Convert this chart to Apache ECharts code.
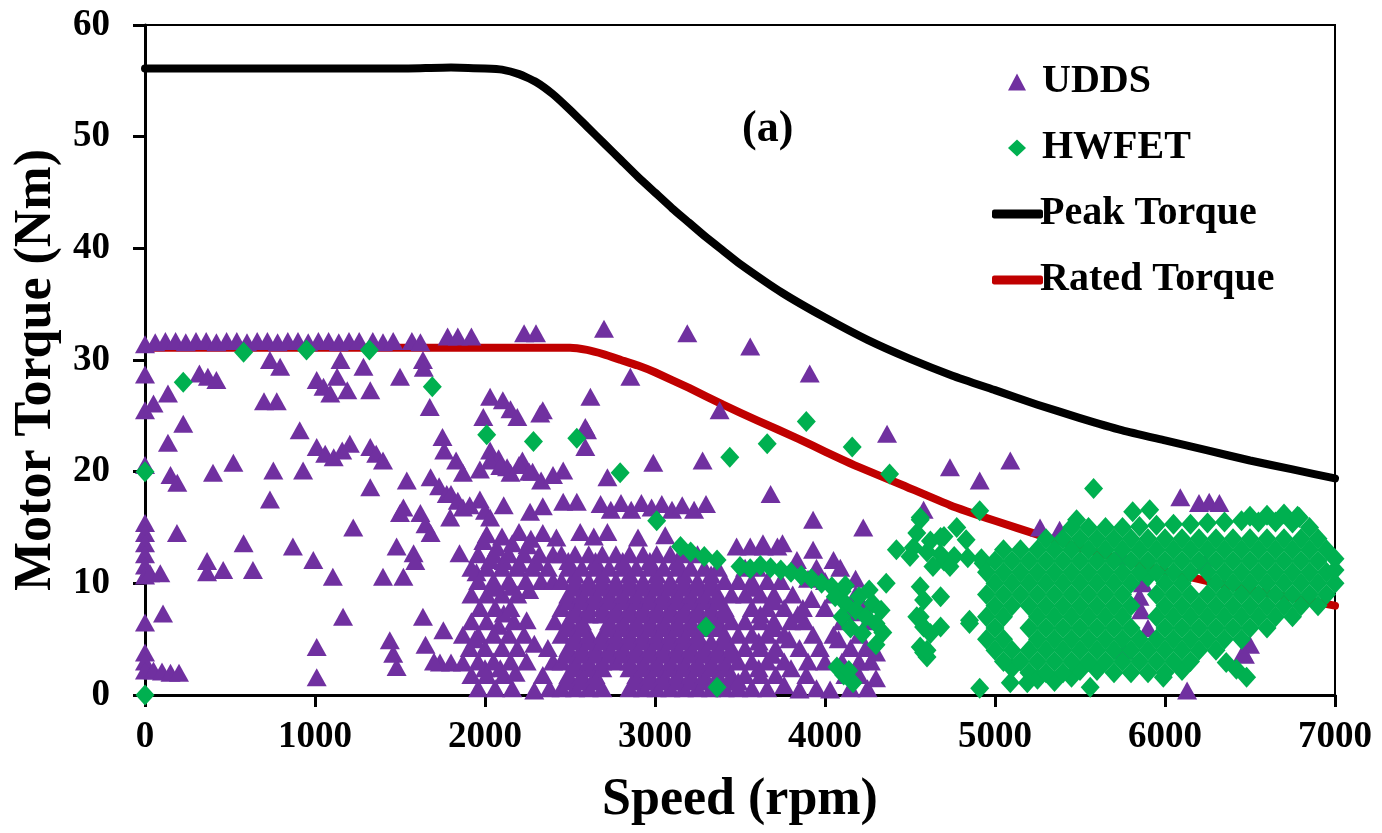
<!DOCTYPE html>
<html><head><meta charset="utf-8">
<script src="https://cdn.jsdelivr.net/npm/echarts@6/dist/echarts.min.js"></script>
<style>html,body{margin:0;padding:0;background:#fff}#c{width:1382px;height:833px}</style>
</head><body><div id="c"></div>
<script>
// ---- data ----
const peakSpeed  = [0, 500, 1000, 1500, 1800, 2000, 2100, 2200, 2300, 2400, 2500, 2600, 2700, 2800, 2900, 3000, 3100, 3200, 3300, 3400, 3500, 3750, 4000, 4250, 4500, 4750, 5000, 5250, 5500, 5750, 6000, 6250, 6500, 6750, 7000];
const peakTorque = [56.1, 56.1, 56.1, 56.1, 56.2, 56.1, 56.0, 55.6, 54.9, 53.8, 52.4, 50.9, 49.4, 47.9, 46.4, 45.0, 43.6, 42.3, 41.0, 39.8, 38.6, 36.0, 33.8, 31.8, 30.1, 28.6, 27.3, 26.0, 24.8, 23.7, 22.8, 21.9, 21.0, 20.2, 19.4];
const ratedSpeed  = [0, 1000, 2000, 2500, 2600, 2700, 2800, 2900, 3000, 3200, 3400, 3600, 3850, 4000, 4200, 4440, 4735, 5000, 5265, 5500, 5750, 6000, 6250, 6500, 6750, 7000];
const ratedTorque = [31.1, 31.1, 31.1, 31.1, 30.9, 30.5, 30.0, 29.5, 28.9, 27.5, 26.0, 24.6, 22.9, 21.8, 20.4, 18.9, 17.0, 15.6, 14.3, 13.2, 12.1, 11.1, 10.2, 9.4, 8.7, 8.0];

const uddsPoints = [
  // band near 31-33 Nm
  [0,31.4],[60,31.6],[120,31.7],[180,31.7],[240,31.6],[300,31.7],[360,31.7],[420,31.6],[480,31.7],[540,31.7],[600,31.6],[660,31.7],[720,31.7],[780,31.6],[840,31.7],[900,31.7],[960,31.6],[1020,31.7],[1080,31.7],[1140,31.6],[1200,31.7],[1260,31.7],[1340,31.7],[1400,31.6],[1460,31.7],[1570,31.7],[1620,31.6],
  [1780,32.1],[1840,32.1],[1920,32.1],[2230,32.4],[2300,32.4],[2700,32.8],[3190,32.4],[3560,31.2],[3910,28.8],[2855,28.5],[2620,26.7],[3380,25.5],[4365,23.4],[4735,20.4],[4910,19.2],[5090,21.0],[5265,15.0],[5380,14.8],[4580,16.6],
  // zero-speed column
  [0,28.7],[0,25.5],[0,20.6],[0,15.4],[0,14.5],[0,13.6],[0,12.6],[0,11.6],[0,10.7],[0,6.5],[0,3.8],[0,3.0],[0,2.2],
  // low speed scattered
  [50,2.2],[100,2.1],[150,2.0],[200,2.0],[106,7.3],[188,14.5],[30,10.9],[90,10.9],[150,19.7],[190,19.0],[135,22.6],[225,24.3],[50,26.1],[135,27.0],[320,28.8],[370,28.5],[420,28.2],
  [400,19.9],[520,20.8],[365,12.0],[365,11.0],[460,11.2],[580,13.6],[635,11.2],[700,26.3],[775,26.3],[735,30.0],[795,29.4],[735,17.5],[755,20.1],[910,23.7],[930,20.1],[870,13.3],[990,12.1],
  [1010,4.3],[1010,1.6],[1165,7.0],[1105,10.6],[1225,15.0],[1010,28.2],[1050,27.6],[1090,27.0],[1010,22.2],[1060,21.6],[1110,21.3],[1160,21.9],[1205,22.5],[1150,30.0],[1130,28.5],[1190,27.3],[1285,29.4],[1325,27.3],
  [1325,22.2],[1360,21.6],[1400,21.0],[1325,18.6],[1400,10.6],[1520,10.6],[1480,13.3],[1500,16.3],[1440,4.9],[1460,3.7],[1480,2.5],[1520,16.8],[1540,19.2],[1500,28.5],[1635,30.0],[1640,29.3],[1675,25.8],
  [1580,12.7],[1590,12.0],[1620,16.3],[1650,15.3],[1680,14.5],[1635,7.0],[1680,19.5],[1730,18.7],[1775,18.0],[1755,5.8],[1800,18.0],[1840,17.4],[1870,16.8],[1795,15.9],[1750,23.1],[1760,21.9],[1830,21.0],[1870,19.9],[1850,12.7],
  [1735,2.9],[1800,2.9],[1870,2.9],[1870,5.4],[1650,4.5],[1700,3.0],
  // 2000-2700 upper
  [2030,26.7],[1990,24.9],[2105,26.4],[2150,25.6],[2190,24.9],[2340,25.5],[2325,25.2],[2590,24.0],[2590,22.2],[2460,20.1],[2600,23.7],[2720,19.5],[2990,20.8],[3280,21.0],[3680,18.0],[2030,21.9],[2080,21.2],[2130,20.4],[2220,21.0],[2280,20.0],[2330,19.2],
  [1970,20.2],[2030,21.0],[2090,20.5],[2150,19.9],[2200,20.6],[2260,20.0],[2400,19.7],[1970,17.5],[2000,16.5],[2030,15.9],
  [1910,17.0],[2110,17.0],[2265,16.4],[2340,16.9],[2460,17.3],[2540,17.3],[2680,17.1],[2740,16.6],[2800,17.2],[2860,16.6],[2920,17.2],[2980,16.8],[3040,17.1],[3100,16.6],[3160,17.0],[3230,16.6],[3300,17.1],
  [3930,15.7],[4225,15.0],[3635,13.6],[3750,13.6],[3930,13.0],[3835,12.1],[4050,12.1],
  // 1900-2440 moderately dense
  [1960,0.6],[2060,0.6],[2160,0.6],[2290,0.4],[2380,0.6],
  [1920,1.8],[2010,1.8],[2110,1.8],[2340,1.8],[2000,2.4],[2090,2.4],[2180,2.0],
  [1960,3.0],[2050,3.0],[2150,3.0],[2245,3.0],[2400,3.0],
  [1910,4.2],[2000,4.2],[2100,4.2],[2190,4.2],[2290,4.6],[2370,4.2],[1940,5.0],
  [1960,5.4],[2050,5.4],[2140,5.4],[2230,5.4],[2080,6.2],[2170,6.6],
  [1920,6.6],[2010,6.6],[2110,7.3],[2245,6.7],[2410,6.6],
  [1970,7.8],[2060,7.8],[2150,7.8],
  [1920,9.0],[2010,9.0],[2100,9.0],[2190,9.0],[2060,9.6],[2160,9.7],[2260,9.4],
  [1960,10.2],[2050,10.2],[2140,10.2],[2240,10.2],[2330,10.2],[2400,10.2],[1950,11.0],
  [1920,11.4],[2010,11.4],[2100,11.4],[2190,11.4],[2280,11.4],[2370,11.4],[2030,12.1],[2110,12.0],[2200,11.8],[2300,11.9],
  [1960,12.6],[2050,12.6],[2140,12.6],[2230,12.6],[2320,12.6],[2400,12.6],[1990,13.8],[2070,13.2],[2160,13.6],[2250,13.4],
  [2010,14.4],[2100,14.2],[2200,14.6],[2270,14.0],[2340,14.5],[2420,14.1],[2560,14.6],[2640,14.2],[2720,14.6],[2900,14.1],[3060,14.3],
  [3480,13.3],[3560,13.3],[3640,13.3],[3720,13.3],
  // dense core 2450-3490
  [2450,0.6],[2530,0.6],[2610,0.6],[2690,0.6],[2850,0.6],[2930,0.6],[3010,0.6],[3090,0.6],[3170,0.6],[3250,0.6],[3330,0.6],[3410,0.6],[3490,0.6],
  [2490,1.2],[2570,1.2],[2650,1.2],[2890,1.2],[2970,1.2],[3050,1.2],[3130,1.2],[3210,1.2],[3290,1.2],[3370,1.2],[3450,1.2],
  [2490,1.8],[2570,1.8],[2650,1.8],[2890,1.8],[2970,1.8],[3050,1.8],[3130,1.8],[3210,1.8],[3290,1.8],[3370,1.8],[3450,1.8],
  [2530,2.4],[2610,2.4],[2690,2.4],[2850,2.4],[2930,2.4],[3010,2.4],[3090,2.4],[3170,2.4],[3250,2.4],[3330,2.4],[3410,2.4],
  [2450,3.0],[2530,3.0],[2610,3.0],[2690,3.0],[2770,3.0],[2850,3.0],[2930,3.0],[3010,3.0],[3090,3.0],[3170,3.0],[3250,3.0],[3330,3.0],[3410,3.0],[3490,3.0],
  [2490,3.6],[2570,3.6],[2650,3.6],[2730,3.6],[2810,3.6],[2890,3.6],[2970,3.6],[3050,3.6],[3130,3.6],[3210,3.6],[3290,3.6],[3370,3.6],[3450,3.6],
  [2490,4.2],[2570,4.2],[2650,4.2],[2730,4.2],[2810,4.2],[2890,4.2],[2970,4.2],[3050,4.2],[3130,4.2],[3210,4.2],[3290,4.2],[3370,4.2],[3450,4.2],
  [2530,4.8],[2610,4.8],[2690,4.8],[2770,4.8],[2850,4.8],[2930,4.8],[3010,4.8],[3090,4.8],[3170,4.8],[3250,4.8],[3330,4.8],[3410,4.8],
  [2450,5.4],[2530,5.4],[2610,5.4],[2690,5.4],[2770,5.4],[2850,5.4],[2930,5.4],[3010,5.4],[3090,5.4],[3170,5.4],[3250,5.4],[3410,5.4],[3490,5.4],
  [2490,6.0],[2570,6.0],[2730,6.0],[2810,6.0],[2890,6.0],[2970,6.0],[3050,6.0],[3130,6.0],[3210,6.0],[3290,6.0],[3370,6.0],
  [2490,6.6],[2570,6.6],[2730,6.6],[2810,6.6],[2890,6.6],[2970,6.6],[3050,6.6],[3130,6.6],[3210,6.6],[3290,6.6],[3370,6.6],[3450,6.6],
  [2530,7.2],[2610,7.2],[2690,7.2],[2770,7.2],[2850,7.2],[2930,7.2],[3010,7.2],[3090,7.2],[3170,7.2],[3250,7.2],[3330,7.2],[3410,7.2],
  [2450,7.8],[2530,7.8],[2610,7.8],[2690,7.8],[2770,7.8],[2850,7.8],[2930,7.8],[3010,7.8],[3090,7.8],[3170,7.8],[3250,7.8],[3330,7.8],[3410,7.8],
  [2490,8.4],[2570,8.4],[2650,8.4],[2730,8.4],[2810,8.4],[2890,8.4],[2970,8.4],[3050,8.4],[3130,8.4],[3210,8.4],[3290,8.4],[3370,8.4],
  [2490,9.0],[2570,9.0],[2650,9.0],[2730,9.0],[2810,9.0],[2890,9.0],[2970,9.0],[3050,9.0],[3130,9.0],[3210,9.0],[3290,9.0],[3370,9.0],[3450,9.0],
  [2530,9.6],[2610,9.6],[2690,9.6],[2770,9.6],[2850,9.6],[2930,9.6],[3010,9.6],[3090,9.6],[3170,9.6],[3250,9.6],[3330,9.6],
  [2450,10.2],[2530,10.2],[2610,10.2],[2690,10.2],[2770,10.2],[2850,10.2],[2930,10.2],[3010,10.2],[3090,10.2],[3170,10.2],[3250,10.2],[3330,10.2],[3410,10.2],[3490,10.2],
  [2530,10.8],[2690,10.8],[2850,10.8],[3010,10.8],[3170,10.8],[3330,10.8],
  [2490,11.4],[2570,11.4],[2650,11.4],[2730,11.4],[2810,11.4],[2890,11.4],[2970,11.4],[3050,11.4],[3130,11.4],[3210,11.4],[3290,11.4],[3370,11.4],
  [2490,12.0],[2650,12.0],[2810,12.0],[2970,12.0],[3130,12.0],
  [2450,12.6],[2530,12.6],[2610,12.6],[2690,12.6],[2770,12.6],[2850,12.6],[2930,12.6],[3010,12.6],[3090,12.6],[3170,12.6],[3250,12.6],
  // 3500-4300
  [3570,0.6],[3660,0.6],[3850,0.5],[3950,0.6],[4030,0.5],[4150,0.6],[4250,0.6],[3760,0.9],
  [3530,1.8],[3620,1.8],[3710,1.8],[3890,1.8],[4120,1.8],[4200,1.8],[3490,1.2],[3610,2.4],[3800,2.4],[4300,1.5],
  [3570,3.0],[3660,3.0],[3760,3.0],[3900,3.0],[4000,3.0],[4100,3.0],[4200,3.0],[4270,3.0],[3690,3.6],[4300,3.8],
  [3530,4.2],[3620,4.2],[3710,4.2],[3850,4.2],[3970,4.2],[4150,4.2],[4240,4.2],[3610,4.8],[3790,5.0],[4080,5.0],
  [3570,5.4],[3660,5.4],[3760,5.4],[3930,5.4],[4050,5.4],[4200,5.4],[3700,6.0],
  [3530,6.6],[3620,6.6],[3700,6.6],[3800,6.6],[3880,6.6],[4100,6.6],[4250,6.6],[3620,7.2],[3840,7.2],[4150,7.4],
  [3570,7.8],[3660,7.8],[3760,7.8],[3870,7.8],[4000,7.8],[4230,7.8],[3700,8.4],[3920,8.6],
  [3530,9.0],[3620,9.0],[3700,9.0],[3810,9.0],[4180,9.0],[4050,9.0],[3580,9.6],
  [3570,10.2],[3660,10.2],[3740,10.2],[4000,10.2],[3900,10.4],[4180,10.4],
  [3530,11.4],[3600,11.4],[3950,11.4],[4090,11.4],
  // high speed
  [6090,17.7],[6200,17.2],[6260,17.3],[6320,17.2],[5720,12.4],[5750,12.4],[5850,8.8],[5860,7.6],[5760,4.0],[6235,11.8],[6470,3.6],[6500,4.5],[6460,3.8],[6130,0.4],[5870,10.0],[5900,6.0]
];

const hwfetPoints = [
  [0,20.0],[0,0.0],[225,28.0],[580,30.7],[950,30.9],[1320,30.9],[1690,27.6],[2010,23.3],[2285,22.7],[2540,23.0],[2795,19.9],[3010,15.6],
  [3150,13.3],[3210,12.8],[3290,12.4],[3365,12.1],[3300,6.1],[3365,0.7],[3440,21.3],[3660,22.5],[3890,24.5],[4160,22.2],[4380,19.8],
  [4910,16.5],[4560,15.9],[4775,15.0],[4700,14.2],[4420,13.0],[4520,13.2],[4600,12.8],[4680,12.6],[4760,12.4],[4840,12.3],[4920,12.2],
  [4360,10.0],[4560,9.7],[4680,8.8],[4540,7.0],[4580,6.1],[4680,6.1],[4850,6.7],[4560,4.3],[4600,3.4],[4910,0.6],[5090,1.1],[5190,1.1],[5560,0.7],[5990,1.6],[6360,2.9],[6420,2.3],[6480,1.6],
  [3500,11.5],[3560,11.3],[3620,11.6],[3680,11.4],[3740,11.2],[3800,11.0],[3860,10.7],[3920,10.4],[3980,10.0],[4040,9.7],[4100,9.3],
  [4060,8.8],[4120,8.2],[4180,7.6],[4240,7.0],[4300,6.4],[4340,5.6],[4100,7.0],[4200,8.8],[4280,8.2],[4150,6.0],[4220,5.5],[4300,4.5],[4120,9.8],[4260,9.4],[4330,7.6],
  [4070,2.5],[4110,1.8],[4165,1.1],[4140,2.2],[4540,14.5],[4620,13.8],[4700,12.0],[4735,11.5],[4580,8.5],[4620,5.5],[4580,3.8],
  [5580,18.5],[5810,16.4],[5910,16.6],[5480,15.7],[4560,15.7],[4680,14.1],[4830,13.9],[4930,11.8],[4500,12.4],[4635,11.5],[4560,7.0],[4850,6.4],[4600,4.0],[6790,15.9],
  // main high-speed cloud
  [5100,2.4],[5200,2.0],[5250,1.4],[5350,1.2],[5450,1.6],[5500,2.2],[5600,2.2],[5700,2.0],
  [5300,2.0],[5400,2.0],[5800,2.0],[5900,2.0],[6000,2.0],[6100,2.2],
  [5050,3.0],[5150,3.0],[5250,3.0],[5350,3.0],[5450,3.0],[5550,3.0],[5650,3.0],[5750,3.0],[5850,3.0],[5950,3.0],[6050,3.0],[6150,3.0],
  [5000,4.0],[5100,4.0],[5200,4.0],[5300,4.0],[5400,4.0],[5500,4.0],[5600,4.0],[5700,4.0],[5800,4.0],[5900,4.0],[6000,4.0],[6100,4.0],[6200,4.0],[6300,4.0],
  [4950,5.0],[5050,5.0],[5250,5.0],[5350,5.0],[5450,5.0],[5550,5.0],[5650,5.0],[5750,5.0],[5850,5.0],[5950,5.0],[6050,5.0],[6150,5.0],[6250,5.0],[6350,5.0],[6450,5.0],
  [5000,6.0],[5200,6.0],[5300,6.0],[5400,6.0],[5500,6.0],[5600,6.0],[5700,6.0],[5800,6.0],[6000,6.0],[6100,6.0],[6200,6.0],[6300,6.0],[6400,6.0],[6500,6.0],[6600,6.0],
  [4950,7.0],[5050,7.0],[5250,7.0],[5350,7.0],[5450,7.0],[5550,7.0],[5650,7.0],[5750,7.0],[5950,7.0],[6050,7.0],[6150,7.0],[6250,7.0],[6350,7.0],[6450,7.0],[6550,7.0],[6650,7.0],[6750,7.0],
  [5000,8.0],[5100,8.0],[5200,8.0],[5300,8.0],[5400,8.0],[5500,8.0],[5600,8.0],[5700,8.0],[5800,8.0],[6000,8.0],[6100,8.0],[6200,8.0],[6300,8.0],[6400,8.0],[6500,8.0],[6600,8.0],[6700,8.0],[6800,8.0],[6900,8.0],
  [4950,9.0],[5050,9.0],[5150,9.0],[5250,9.0],[5350,9.0],[5450,9.0],[5550,9.0],[5650,9.0],[5750,9.0],[5950,9.0],[6050,9.0],[6150,9.0],[6250,9.0],[6350,9.0],[6450,9.0],[6550,9.0],[6650,9.0],[6750,9.0],[6850,9.0],[6950,9.0],
  [5000,10.0],[5100,10.0],[5200,10.0],[5300,10.0],[5400,10.0],[5500,10.0],[5600,10.0],[5700,10.0],[5800,10.0],[5900,10.6],[6000,10.0],[6100,10.0],[6300,10.0],[6400,10.0],[6500,10.0],[6600,10.0],[6700,10.0],[6800,10.0],[6900,10.0],[7000,10.0],
  [4950,11.0],[5050,11.0],[5150,11.0],[5250,11.0],[5350,11.0],[5450,11.0],[5550,11.0],[5650,11.0],[5750,11.0],[5850,11.0],[5950,11.0],[6050,11.0],[6150,11.0],[6250,11.0],[6350,11.0],[6450,11.0],[6550,11.0],[6650,11.0],[6750,11.0],[6850,11.0],[6950,11.0],[7000,11.2],
  [5000,12.0],[5100,12.0],[5200,12.0],[5300,12.0],[5400,12.0],[5500,12.0],[5600,12.0],[5700,12.0],[5800,12.0],[5900,12.0],[6000,12.0],[6100,12.0],[6200,12.0],[6300,12.0],[6400,12.0],[6500,12.0],[6600,12.0],[6700,12.0],[6800,12.0],[6900,12.0],[7000,12.2],
  [5050,13.0],[5150,13.0],[5250,13.0],[5350,13.0],[5450,13.0],[5550,13.0],[5650,13.0],[5750,13.0],[5850,13.0],[5950,13.0],[6050,13.0],[6150,13.0],[6250,13.0],[6350,13.0],[6450,13.0],[6550,13.0],[6650,13.0],[6750,13.0],[6850,13.0],[6950,13.0],
  [5300,14.0],[5400,14.0],[5500,14.0],[5600,14.0],[5700,14.0],[5800,14.0],[5900,14.0],[6000,14.0],[6100,14.0],[6200,14.0],[6300,14.0],[6400,14.0],[6500,14.0],[6600,14.0],[6700,14.0],[6800,14.0],[6900,14.0],
  [5450,15.0],[5550,15.0],[5650,15.0],[5750,15.0],[5850,15.1],[5950,15.2],[6050,15.3],[6150,15.3],[6250,15.4],[6350,15.5],[6450,15.6],[6550,15.5],[6650,15.5],[6750,15.4],[6850,15.0],
  [6500,16.0],[6600,16.1],[6700,16.2],[6780,16.0]
];

const xTicks = {min: 0, max: 7000, interval: 1000};
const yTicks = {min: 0, max: 60, interval: 10};

// ---- chart ----
const font = 'Liberation Serif';
const peakData = peakSpeed.map((s, i) => [s, peakTorque[i]]);
const ratedData = ratedSpeed.map((s, i) => [s, ratedTorque[i]]);
const legendText = {fontFamily: font, fontWeight: 'bold', fontSize: 40, color: '#000'};
const chart = echarts.init(document.getElementById('c'), null, {renderer: 'canvas'});
chart.setOption({
  animation: false,
  backgroundColor: '#fff',
  grid: {left: 145, right: 47, top: 25, bottom: 138, show: true, borderColor: '#000', borderWidth: 2, backgroundColor: 'transparent'},
  xAxis: {
    type: 'value', min: xTicks.min, max: xTicks.max, interval: xTicks.interval,
    name: 'Speed (rpm)', nameLocation: 'middle', nameGap: 80,
    nameTextStyle: {fontFamily: font, fontWeight: 'bold', fontSize: 52, color: '#000'},
    axisLine: {lineStyle: {color: '#000', width: 3}},
    axisTick: {show: true, inside: false, length: 12, lineStyle: {color: '#000', width: 3}},
    axisLabel: {margin: 24, fontFamily: font, fontWeight: 'bold', fontSize: 37, color: '#000', formatter: v => String(v)},
    splitLine: {show: false}
  },
  yAxis: {
    type: 'value', min: yTicks.min, max: yTicks.max, interval: yTicks.interval,
    name: 'Motor Torque (Nm)', nameLocation: 'middle', nameGap: 80, nameRotate: 90,
    nameTextStyle: {fontFamily: font, fontWeight: 'bold', fontSize: 52, color: '#000', padding: [0, 20, 0, 0]},
    axisLine: {lineStyle: {color: '#000', width: 3}},
    axisTick: {show: true, inside: false, length: 12, lineStyle: {color: '#000', width: 3}},
    axisLabel: {margin: 35, fontFamily: font, fontWeight: 'bold', fontSize: 37, color: '#000'},
    splitLine: {show: false}
  },
  legend: [
    {
      orient: 'vertical', left: 1003, top: 57, itemWidth: 18, itemHeight: 17, itemGap: 26,
      textStyle: Object.assign({padding: [0, 0, 0, 11]}, legendText),
      data: [{name: 'UDDS', icon: 'triangle'}, {name: 'HWFET', icon: 'diamond'}]
    },
    {
      orient: 'vertical', left: 987, top: 189, itemWidth: 51, itemHeight: 9, itemGap: 26,
      textStyle: Object.assign({padding: [0, 0, 0, -8]}, legendText),
      data: [{name: 'Peak Torque', icon: 'roundRect'}, {name: 'Rated Torque', icon: 'roundRect'}]
    }
  ],
  graphic: [{
    type: 'text', left: 742, top: 108,
    style: {text: '(a)', font: 'bold 44px "Liberation Serif"', fill: '#000'}
  }],
  series: [
    {name: 'Peak Torque', type: 'line', data: peakData, smooth: 0.15, symbol: 'none', showSymbol: false,
     lineStyle: {color: '#000', width: 8, cap: 'round', join: 'round'}, itemStyle: {color: '#000'}, z: 2},
    {name: 'Rated Torque', type: 'line', data: ratedData, smooth: 0.15, symbol: 'none', showSymbol: false,
     lineStyle: {color: '#c00000', width: 8, cap: 'round', join: 'round'}, itemStyle: {color: '#c00000'}, z: 2},
    {name: 'UDDS', type: 'scatter', data: uddsPoints, symbol: 'triangle', symbolSize: [20, 18], clip: false,
     itemStyle: {color: '#7030a0', opacity: 1}, z: 3},
    {name: 'HWFET', type: 'scatter', data: hwfetPoints, symbol: 'diamond', symbolSize: [19, 21], clip: false,
     itemStyle: {color: '#00b050', opacity: 1}, z: 4}
  ]
});
</script>
</body></html>
